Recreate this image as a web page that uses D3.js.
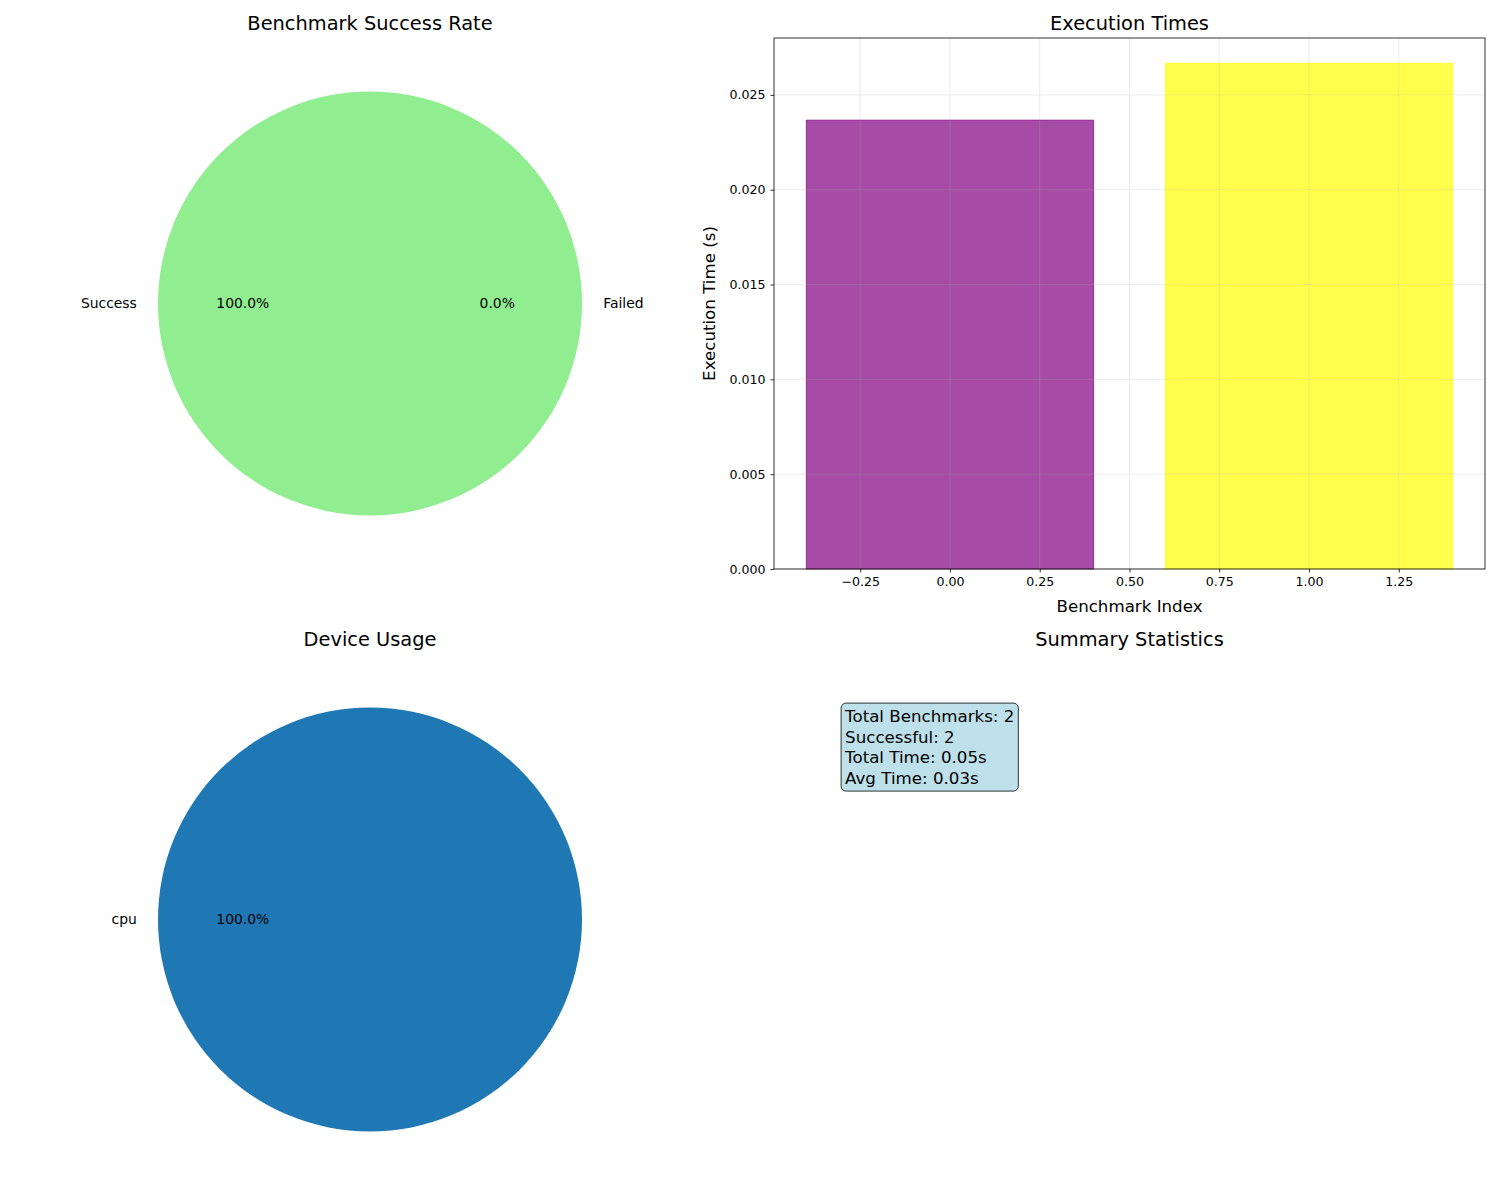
<!DOCTYPE html>
<html>
<head>
<meta charset="utf-8">
<script src="https://cdn.jsdelivr.net/npm/d3@7"></script>
<style>
body{margin:0;background:#fff;}
svg{display:block;font-family:"DejaVu Sans",sans-serif;}
</style>
</head>
<body>
<svg id="chart" width="1500" height="1200"></svg>
<script>
// ---- data ----
const statusLabels = ["Success", "Failed"];
const statusValues = [2, 0];
const statusColors = ["#90ee90", "#f08080"];
const deviceLabels = ["cpu"];
const deviceValues = [2];
const deviceColors = ["#1f77b4"];
const benchIndex = [0, 1];
const execTimes = [0.02367, 0.02667];
const barColors = ["purple", "yellow"];
const yTicks = [0, 0.005, 0.010, 0.015, 0.020, 0.025];
const xTicks = [-0.25, 0, 0.25, 0.5, 0.75, 1.0, 1.25];
const summaryLines = ["Total Benchmarks: 2", "Successful: 2", "Total Time: 0.05s", "Avg Time: 0.03s"];

const svg = d3.select("#chart");

// layout
const rowTop = [38, 654], rowH = 531;
const rightX = 774, colW = 711;

function title(x, y, t) {
  svg.append("text").attr("x", x).attr("y", y).attr("text-anchor", "middle")
    .attr("font-size", 19.4).attr("fill", "#000").text(t);
}

// ---- pie helper (matplotlib-like: start at angle 0 (east), counterclockwise) ----
function drawPie(cx, cy, r, labels, values, colors) {
  const g = svg.append("g").attr("transform", `translate(${cx},${cy})`);
  const total = d3.sum(values);
  let a0 = 0;
  const slices = values.map((v, i) => {
    const a1 = a0 + 2 * Math.PI * v / total;
    const s = {i, v, a0, a1};
    a0 = a1;
    return s;
  });
  const arc = d3.arc().innerRadius(0).outerRadius(r);
  slices.forEach(s => {
    if (s.v <= 0) return;
    const start = Math.PI / 2 - s.a1, end = Math.PI / 2 - s.a0;
    g.append("path").attr("d", arc({startAngle: start, endAngle: end}))
      .attr("fill", colors[s.i]);
  });
  slices.forEach(s => {
    const mid = (s.a0 + s.a1) / 2;
    const cxm = Math.cos(mid), sym = Math.sin(mid);
    const lx = 1.1 * r * cxm, ly = -1.1 * r * sym;
    const anchor = cxm < 0 ? "end" : "start";
    g.append("text").attr("x", lx).attr("y", ly).attr("dy", "0.35em")
      .attr("text-anchor", anchor).attr("font-size", 13.9).text(labels[s.i]);
    const px = 0.6 * r * cxm, py = -0.6 * r * sym;
    g.append("text").attr("x", px).attr("y", py).attr("dy", "0.35em")
      .attr("text-anchor", "middle").attr("font-size", 13.9)
      .text((100 * s.v / total).toFixed(1) + "%");
  });
}

// ---- top-left pie ----
title(370, 30, "Benchmark Success Rate");
drawPie(370, 303.5, 212, statusLabels, statusValues, statusColors);

// ---- bottom-left pie ----
title(370, 646, "Device Usage");
drawPie(370, 919.5, 212, deviceLabels, deviceValues, deviceColors);

// ---- bar chart ----
title(rightX + colW / 2, 30, "Execution Times");
const bx0 = rightX, bx1 = rightX + colW, by0 = rowTop[0], by1 = rowTop[0] + rowH;
const maxV = d3.max(execTimes);
const x = d3.scaleLinear().domain([-0.49, 1.49]).range([bx0, bx1]);
const y = d3.scaleLinear().domain([0, maxV * 1.05]).range([by1, by0]);
const bw = 0.8;

const bars = svg.append("g");
benchIndex.forEach((b, i) => {
  bars.append("rect")
    .attr("x", x(b - bw / 2)).attr("y", y(execTimes[i]))
    .attr("width", x(b + bw / 2) - x(b - bw / 2))
    .attr("height", y(0) - y(execTimes[i]))
    .attr("fill", barColors[i]).attr("fill-opacity", 0.7)
    .attr("stroke", barColors[i]).attr("stroke-opacity", 0.7).attr("stroke-width", 1);
});

// grid (above bars)
const grid = svg.append("g").attr("stroke", "#b0b0b0").attr("stroke-opacity", 0.3).attr("stroke-width", 0.8);
xTicks.forEach(t => grid.append("line").attr("x1", x(t)).attr("x2", x(t)).attr("y1", by0).attr("y2", by1));
yTicks.forEach(t => grid.append("line").attr("x1", bx0).attr("x2", bx1).attr("y1", y(t)).attr("y2", y(t)));

// axes
const fmtX = v => d3.format(".2f")(v).replace("-", "\u2212");
const xAxis = svg.append("g").attr("transform", `translate(0,${by1})`)
  .call(d3.axisBottom(x).tickValues(xTicks).tickFormat(fmtX).tickSize(3.5).tickPadding(5).tickSizeOuter(0));
const yAxis = svg.append("g").attr("transform", `translate(${bx0},0)`)
  .call(d3.axisLeft(y).tickValues(yTicks).tickFormat(d3.format(".3f")).tickSize(3.5).tickPadding(5).tickSizeOuter(0));
[xAxis, yAxis].forEach(a => {
  a.select(".domain").remove();
  a.selectAll("text").attr("font-size", 12.6).attr("font-family", "DejaVu Sans").attr("fill", "#000");
  a.selectAll("line").attr("stroke", "#000").attr("stroke-width", 0.8);
});
svg.append("rect").attr("x", bx0).attr("y", by0).attr("width", colW).attr("height", rowH)
  .attr("fill", "none").attr("stroke", "#000").attr("stroke-width", 0.8);

svg.append("text").attr("x", rightX + colW / 2).attr("y", 612).attr("text-anchor", "middle")
  .attr("font-size", 16.67).text("Benchmark Index");
svg.append("text").attr("transform", `translate(715,${(by0 + by1) / 2}) rotate(-90)`)
  .attr("text-anchor", "middle").attr("font-size", 16.67).text("Execution Time (s)");

// ---- summary ----
title(rightX + colW / 2, 646, "Summary Statistics");
const sx = rightX + 0.1 * colW, sy = rowTop[1] + 0.1 * rowH;
const sg = svg.append("g");
const box = sg.append("rect");
const lineH = 20.5;
const texts = summaryLines.map((l, i) =>
  sg.append("text").attr("x", sx).attr("y", sy + 15 + i * lineH).attr("font-size", 16.67).text(l));
const widths = texts.map(t => t.node().getComputedTextLength());
const bwid = d3.max(widths);
box.attr("x", sx - 4).attr("y", sy - 4).attr("width", bwid + 8).attr("height", summaryLines.length * lineH + 6)
  .attr("rx", 5).attr("ry", 5)
  .attr("fill", "#add8e6").attr("fill-opacity", 0.8)
  .attr("stroke", "#000").attr("stroke-opacity", 0.8).attr("stroke-width", 1);
</script>
</body>
</html>
